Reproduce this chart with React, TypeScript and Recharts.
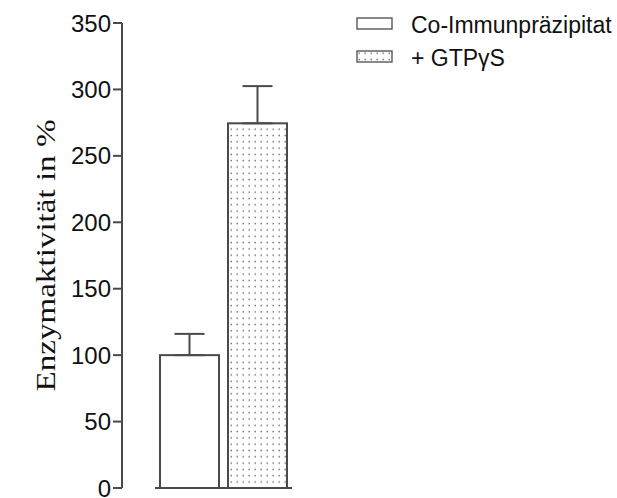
import { BarChart, Bar, XAxis, YAxis, ErrorBar } from "recharts";

const categories = ["Probe"];
const coValues = [100];
const gtpValues = [274.5];
const coErrors: [number, number][] = [[0, 16]];
const gtpErrors: [number, number][] = [[0, 28]];
const yTicks = [0, 50, 100, 150, 200, 250, 300, 350];

const SERIES = [
  { key: "co", label: "Co-Immunpräzipitat", dotted: false },
  { key: "gtp", label: "+ GTP\u03b3S", dotted: true },
];

const data = categories.map((c, i) => ({
  name: c,
  co: coValues[i],
  gtp: gtpValues[i],
  coErr: coErrors[i],
  gtpErr: gtpErrors[i],
}));

const INK = "#4a4a4a";
const SANS = "Arial, 'Liberation Sans', Helvetica, sans-serif";

function BarWithBase(props: any) {
  const { x, y, width, height, fill } = props;
  return (
    <g>
      <rect x={x} y={y} width={width} height={height} fill={fill} stroke={INK} strokeWidth={2} />
      <line x1={x - 5} x2={x + width + 5} y1={y + height} y2={y + height} stroke={INK} strokeWidth={2} />
    </g>
  );
}

function LegendBox() {
  return (
    <div
      style={{
        position: "absolute",
        left: 356,
        top: 9,
        fontFamily: SANS,
        fontSize: 23,
        color: "#111",
      }}
    >
      {SERIES.map((s) => (
        <div key={s.key} style={{ display: "flex", alignItems: "center", height: 33 }}>
          <svg width={37} height={13} style={{ marginRight: 18, position: "relative", top: -2 }}>
            <rect
              x={1}
              y={1}
              width={35}
              height={11}
              fill={s.dotted ? "url(#dots)" : "#fff"}
              stroke={INK}
              strokeWidth={1.3}
            />
          </svg>
          <span style={{ whiteSpace: "nowrap" }}>{s.label}</span>
        </div>
      ))}
    </div>
  );
}

function AxisTitle(props: any) {
  const { viewBox } = props;
  const cx = 46;
  const cy = viewBox.y + viewBox.height / 2;
  return (
    <text
      x={cx}
      y={cy}
      transform={`rotate(-90, ${cx}, ${cy})`}
      textAnchor="middle"
      dominantBaseline="central"
      fontFamily="'Liberation Serif', 'Times New Roman', serif"
      fontSize={27}
      textLength={272}
      lengthAdjust="spacingAndGlyphs"
      fill="#111"
    >
      Enzymaktivität in %
    </text>
  );
}

export default function App() {
  return (
    <div style={{ position: "absolute", left: 0, top: 0, width: 617, height: 498, background: "#fff" }}>
      <BarChart
        width={617}
        height={498}
        data={data}
        margin={{ top: 23, right: 292, bottom: 10, left: 0 }}
        barSize={59}
        barGap={9}
      >
        <defs>
          <pattern id="dots" width={6} height={6.3} patternUnits="userSpaceOnUse">
            <rect width={6} height={6.3} fill="#fff" />
            <rect x={2.5} y={2.5} width={1.4} height={1.4} fill="#666" />
          </pattern>
        </defs>
        <XAxis dataKey="name" hide />
        <YAxis
          width={122}
          domain={[0, 350]}
          ticks={yTicks}
          interval={0}
          tickSize={9}
          tickMargin={2}
          axisLine={{ stroke: INK, strokeWidth: 2 }}
          tickLine={{ stroke: INK, strokeWidth: 2 }}
          tick={{ fontFamily: SANS, fontSize: 24, fill: "#111" }}
          label={<AxisTitle />}
        />
        <Bar dataKey="co" name={SERIES[0].label} fill="#fff" shape={<BarWithBase />} isAnimationActive={false}>
          <ErrorBar dataKey="coErr" width={15} stroke={INK} strokeWidth={2} direction="y" />
        </Bar>
        <Bar dataKey="gtp" name={SERIES[1].label} fill="url(#dots)" shape={<BarWithBase />} isAnimationActive={false}>
          <ErrorBar dataKey="gtpErr" width={15} stroke={INK} strokeWidth={2} direction="y" />
        </Bar>
      </BarChart>
      <LegendBox />
    </div>
  );
}
